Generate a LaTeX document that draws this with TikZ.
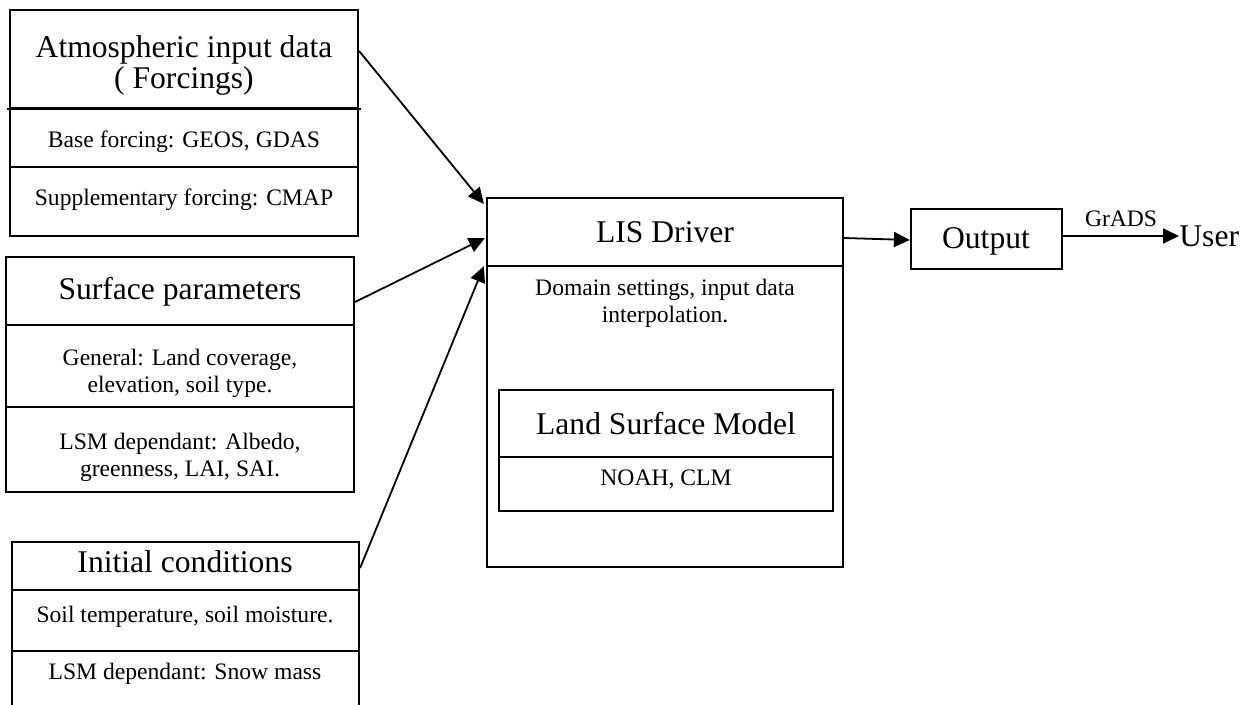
\documentclass[tikz,border=0pt]{standalone}
\usepackage{fontspec}
\setmainfont{Liberation Serif}
\usetikzlibrary{arrows.meta,calc,fit}
\newcommand{\bigtxt}{\fontsize{15.8pt}{15.5pt}\selectfont}
\newcommand{\smalltxt}{\fontsize{11.8pt}{13.5pt}\selectfont}

\begin{document}
\begin{tikzpicture}[x=0.5pt,y=-0.5pt,>={Triangle[length=8pt,width=7.5pt]},
  sec/.style={draw,line width=1.1pt,inner sep=0pt},
  big/.style={font=\bigtxt,align=center,inner sep=0pt},
  small/.style={font=\smalltxt,align=center,inner sep=0pt},
  arr/.style={->,line width=0.9pt}]
\useasboundingbox (0,0) rectangle (1253,705);
\clip (0,0) rectangle (1253,705);
\begin{scope}
\node[sec,fit={(10,10) (358,108)}] (atmHead) {};
\node[sec,fit={(10,108) (358,167)}] (atmBase) {};
\node[sec,fit={(10,167) (358,236)}] (atmSupp) {};
\draw[line width=1.1pt] ($(atmHead.south west)+(-2,0)$) -- ($(atmHead.south east)+(2,0)$);
\node[big] (atmTitle) at (184,65) {Atmospheric input data\\( Forcings)};
\node[small] (atmBaseTxt) at (184,142) {Base forcing: GEOS, GDAS};
\node[small] (atmSuppTxt) at (184,200) {Supplementary forcing: CMAP};
\end{scope}
\begin{scope}
\node[sec,fit={(6,257) (354,325)}] (surfHead) {};
\node[sec,fit={(6,325) (354,407)}] (surfGen) {};
\node[sec,fit={(6,407) (354,492)}] (surfLsm) {};
\node[big] (surfTitle) at (180,292) {Surface parameters};
\node[small] (surfGenTxt) at (180,373) {General: Land coverage,\\elevation, soil type.};
\node[small] (surfLsmTxt) at (180,457) {LSM dependant: Albedo,\\greenness, LAI, SAI.};
\end{scope}
\begin{scope}
\node[sec,fit={(12,542) (359,590)}] (initHead) {};
\node[sec,fit={(12,590) (359,651)}] (initSoil) {};
\node[sec,fit={(12,651) (359,730)}] (initLsm) {};
\node[big] (initTitle) at (185,562) {Initial conditions};
\node[small] (initSoilTxt) at (185,617) {Soil temperature, soil moisture.};
\node[small] (initLsmTxt) at (185,674) {LSM dependant: Snow mass};
\end{scope}
\begin{scope}
\node[sec,fit={(487,198) (843,567)}] (lis) {};
\node[sec,fit={(487,198) (843,266)}] (lisHead) {};
\node[big] (lisTitle) at (665,232) {LIS Driver};
\node[small] (lisTxt) at (665,303) {Domain settings, input data\\interpolation.};
\node[sec,fit={(499,390) (833,457)}] (lsmHead) {};
\node[sec,fit={(499,457) (833,511)}] (lsmBody) {};
\node[big] (lsmTitle) at (666,424) {Land Surface Model};
\node[small] (lsmTxt) at (666,480) {NOAH, CLM};
\end{scope}
\node[sec,fit={(911,209) (1062,269)}] (out) {};
\node[big] (outTxt) at (986,241) {Output};
\node[big,anchor=west] (user) at (1179,236) {User};
\draw[arr] ($(atmHead.east)+(0,-8)$) -- ($(lisHead.north west)+(-2,7)$);
\draw[arr] ($(surfHead.east)+(0,11)$) -- ($(lisHead.west)+(-1,6)$);
\draw[arr] ($(initHead.east)+(0,2)$) -- ($(lisHead.south west)+(-2,-1)$);
\draw[arr] ($(lisHead.east)+(0,6)$) -- ($(out.west)+(0,1)$);
\draw[arr] ($(out.east)+(0,-3)$) -- node[small,above=4pt] (grads) {GrADS} (user.west);
\end{tikzpicture}
\end{document}
